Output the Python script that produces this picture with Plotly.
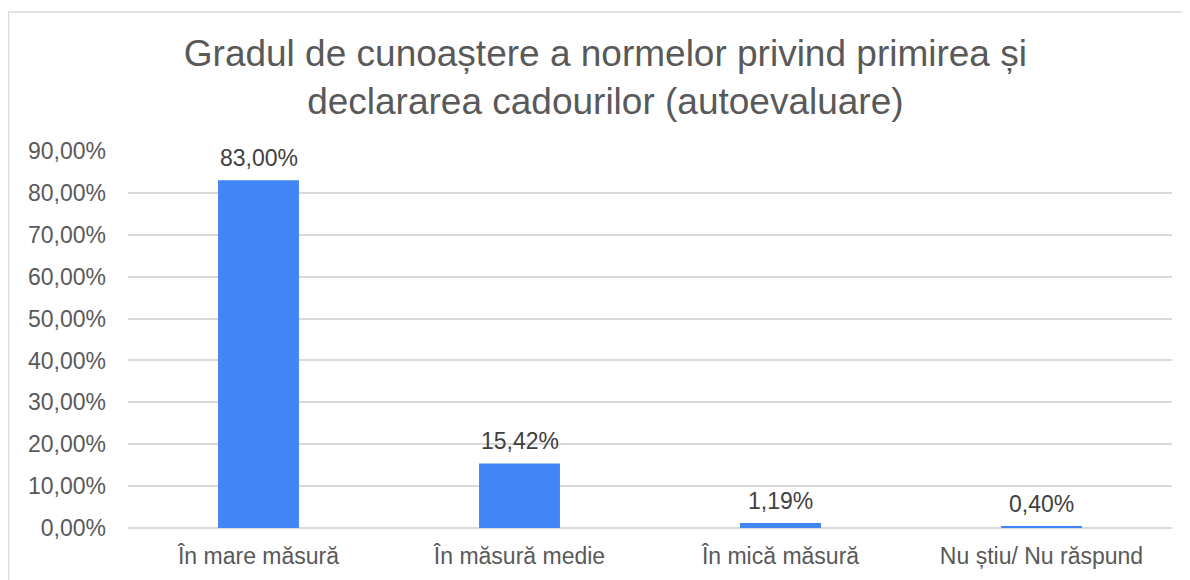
import plotly.graph_objects as go

categories = ["În mare măsură", "În măsură medie", "În mică măsură", "Nu știu/ Nu răspund"]
values = [0.83, 0.1542, 0.0119, 0.004]
tick_vals = [0, 0.1, 0.2, 0.3, 0.4, 0.5, 0.6, 0.7, 0.8, 0.9]

fig = go.Figure()
fig.add_trace(go.Bar(x=categories, y=values, width=0.31,
                     marker=dict(color='#4285f4', line=dict(width=0))))

# etichete de date deasupra barelor
for c, v in zip(categories, values):
    fig.add_annotation(x=c, y=v, text=f"{v * 100:.2f}%".replace('.', ','),
                       showarrow=False, yanchor='bottom', yshift=7,
                       font=dict(size=23, color='#404040'))

fig.update_layout(
    width=1190, height=580,
    paper_bgcolor='white', plot_bgcolor='white',
    separators=',.',
    font=dict(family='Liberation Sans, Arial', color='#595959', size=23),
    title=dict(text='Gradul de cunoaștere a normelor privind primirea și<br>declararea cadourilor (autoevaluare)',
               x=0.502, xref='container', xanchor='center',
               y=1 - 58 / 580, yref='container', yanchor='middle',
               font=dict(size=37, color='#595959')),
    margin=dict(l=120, r=26, t=143, b=60),
    showlegend=False,
    shapes=[dict(type='rect', xref='paper', yref='paper',
                 x0=-119.5 / 1044, x1=1.1, y0=-0.3, y1=1 + 139 / 377,
                 line=dict(color='#d9d9d9', width=1.5), fillcolor='rgba(0,0,0,0)', layer='below')],
)
fig.update_yaxes(range=[0, 0.9], tickvals=tick_vals, tickformat='.2%',
                 showgrid=True, gridcolor='#d9d9d9', gridwidth=1.5,
                 zeroline=True, zerolinecolor='#d9d9d9', zerolinewidth=1.5,
                 showline=False, ticks='', ticklabelstandoff=21,
                 tickfont=dict(size=23, color='#595959'))
fig.update_xaxes(showline=False, ticks='', ticklabelstandoff=12,
                 tickfont=dict(size=23, color='#595959'))

fig.write_html("out.html")
